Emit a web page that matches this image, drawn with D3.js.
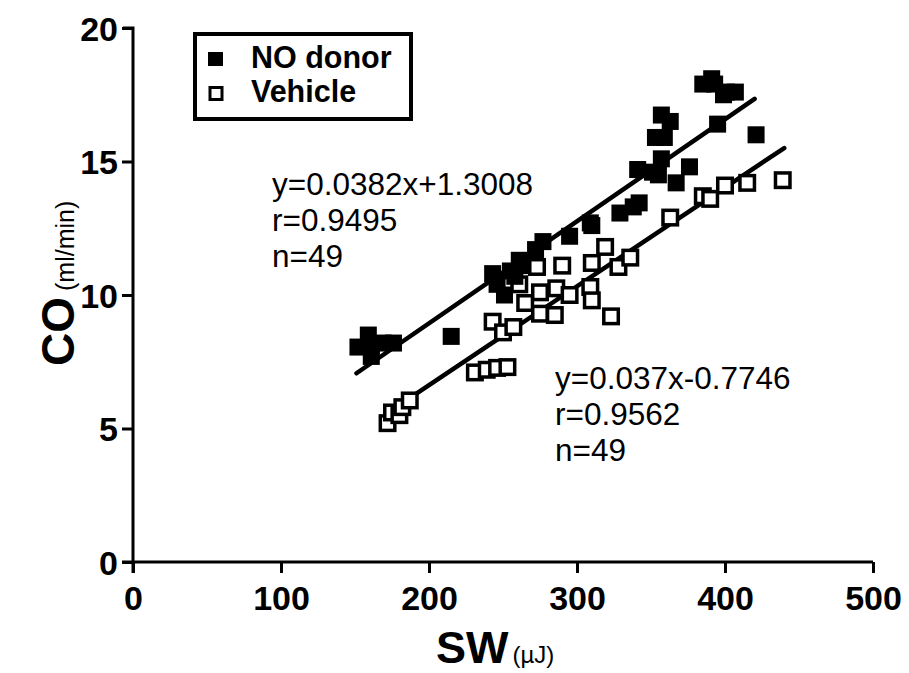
<!DOCTYPE html>
<html>
<head>
<meta charset="utf-8">
<script src="https://cdn.jsdelivr.net/npm/d3@7/dist/d3.min.js"></script>
<style>
  html, body { margin: 0; padding: 0; background: #fff; }
  svg { display: block; font-family: Arial, "Liberation Sans", Helvetica, sans-serif; }
</style>
</head>
<body>
<svg id="chart" width="909" height="673"></svg>
<script>
// Stroke work (SW, µJ) vs cardiac output (CO, ml/min)
const noDonorSW = [152, 159, 161, 161, 169, 176, 215, 243, 246, 251, 255, 258, 261, 262, 272,
  277, 295, 309, 310, 329, 338, 342, 341, 351, 355, 357, 353, 359, 357, 363, 367, 376, 385,
  391, 393, 395, 399, 401, 407, 421];
const noDonorCO = [8.05, 8.5, 8.1, 7.7, 8.2, 8.2, 8.45, 10.8, 10.4, 10.0, 10.9, 10.7, 11.3, 11.1, 11.7,
  12.0, 12.2, 12.7, 12.6, 13.07, 13.3, 13.45, 14.7, 14.6, 14.5, 15.1, 15.9, 15.9, 16.74, 16.5, 14.2, 14.8, 17.9,
  18.1, 17.9, 16.4, 17.5, 17.6, 17.6, 16.0];

const vehicleSW = [172, 175, 180, 182, 187, 231, 239, 246, 253, 243, 250, 257, 261, 265, 273,
  275, 275, 285, 286, 290, 295, 309, 310, 310, 319, 323, 328, 336, 363, 385, 390, 400, 415, 439];
const vehicleCO = [5.2, 5.6, 5.5, 5.8, 6.05, 7.1, 7.2, 7.27, 7.3, 9.0, 8.6, 8.8, 10.4, 9.7, 11.05,
  10.1, 9.3, 9.25, 10.25, 11.1, 10.0, 10.3, 9.8, 11.2, 11.8, 9.2, 11.05, 11.4, 12.9, 13.7, 13.6, 14.1, 14.2, 14.3];

// Linear fits: slope, intercept, r, n
const noDonorFit = { slope: 0.0382, intercept: 1.3008, r: "0.9495", n: 49 };
const vehicleFit = { slope: 0.037, intercept: -0.7746, r: "0.9562", n: 49 };
const noDonorFitRange = [151, 420];
const vehicleFitRange = [172, 440];

const xTicks = [0, 100, 200, 300, 400, 500];
const yTicks = [0, 5, 10, 15, 20];
const legendLabels = ["NO donor", "Vehicle"];

const svg = d3.select("#chart");
const x = d3.scaleLinear().domain([0, 500]).range([133, 873]);
const y = d3.scaleLinear().domain([0, 20]).range([562, 28]);

// Axes
const xAxis = svg.append("g").attr("transform", `translate(0,${y(0)})`)
  .call(d3.axisBottom(x).tickValues(xTicks).tickSize(11).tickSizeOuter(0));
const yAxis = svg.append("g").attr("transform", `translate(${x(0)},0)`)
  .call(d3.axisLeft(y).tickValues(yTicks).tickSize(11).tickSizeOuter(0));
[xAxis, yAxis].forEach(g => {
  g.select(".domain").attr("stroke", "#000").attr("stroke-width", 3);
  g.selectAll(".tick line").attr("stroke", "#000").attr("stroke-width", 3);
  g.selectAll(".tick text").attr("fill", "#000").style("font-size", "34px").style("font-weight", "bold")
    .style("font-family", "Arial, 'Liberation Sans', sans-serif");
});
xAxis.selectAll(".tick text").attr("y", 48).attr("dy", 0);
yAxis.selectAll(".tick text").attr("x", -15).attr("dy", "0.36em");
// the y axis extends slightly below the zero line, the x axis slightly left of it
yAxis.select(".domain").attr("d", `M-10,${y(20)}H0V${y(0) + 11}`);
xAxis.select(".domain").attr("d", `M${x(0) - 11},0H${x(500)}`);

// Regression lines
function fitLine(fit, range) {
  return range.map(v => [x(v), y(fit.slope * v + fit.intercept)]);
}
const line = d3.line();
svg.append("path").attr("d", line(fitLine(noDonorFit, noDonorFitRange)))
  .attr("stroke", "#000").attr("stroke-width", 4.5).attr("stroke-linecap", "round").attr("fill", "none");
svg.append("path").attr("d", line(fitLine(vehicleFit, vehicleFitRange)))
  .attr("stroke", "#000").attr("stroke-width", 4.5).attr("stroke-linecap", "round").attr("fill", "none");

// Markers
const filledSize = 17, openSize = 14.5;
svg.append("g").selectAll("rect").data(d3.zip(vehicleSW, vehicleCO)).join("rect")
  .attr("x", d => x(d[0]) - openSize / 2).attr("y", d => y(d[1]) - openSize / 2)
  .attr("width", openSize).attr("height", openSize)
  .attr("fill", "#fff").attr("stroke", "#000").attr("stroke-width", 3.5);
svg.append("g").selectAll("rect").data(d3.zip(noDonorSW, noDonorCO)).join("rect")
  .attr("x", d => x(d[0]) - filledSize / 2).attr("y", d => y(d[1]) - filledSize / 2)
  .attr("width", filledSize).attr("height", filledSize).attr("fill", "#000");

// Fit annotations
function annotate(fit, x0, y0, eq) {
  const t = svg.append("text").attr("x", x0).attr("y", y0)
    .style("font-size", "31.5px").attr("fill", "#000");
  [eq, `r=${fit.r}`, `n=${fit.n}`].forEach((s, i) =>
    t.append("tspan").attr("x", x0).attr("dy", i === 0 ? 0 : 36).text(s));
}
annotate(noDonorFit, 272, 195, `y=${noDonorFit.slope}x+${noDonorFit.intercept}`);
annotate(vehicleFit, 555, 389, `y=${vehicleFit.slope}x${vehicleFit.intercept}`);

// Legend
const lg = svg.append("g");
lg.append("rect").attr("x", 195).attr("y", 34).attr("width", 216).attr("height", 85)
  .attr("fill", "#fff").attr("stroke", "#000").attr("stroke-width", 4);
lg.append("rect").attr("x", 208).attr("y", 52).attr("width", 15).attr("height", 14).attr("fill", "#000");
lg.append("rect").attr("x", 210).attr("y", 87.5).attr("width", 12).attr("height", 12)
  .attr("fill", "#fff").attr("stroke", "#000").attr("stroke-width", 3);
legendLabels.forEach((s, i) => lg.append("text").attr("x", 251).attr("y", 68 + i * 34)
  .style("font-size", "30.5px").style("font-weight", "bold").text(s));

// Axis titles
const xt = svg.append("text").attr("x", 436).attr("y", 663);
xt.append("tspan").style("font-size", "45px").style("font-weight", "bold").text("SW");
xt.append("tspan").style("font-size", "24px").attr("dx", 4).text("(µJ)");
const yt = svg.append("text").attr("transform", "translate(74,366) rotate(-90)");
yt.append("tspan").style("font-size", "46px").style("font-weight", "bold").text("CO");
yt.append("tspan").style("font-size", "25px").attr("dx", 6).text("(ml/min)");
</script>
</body>
</html>
